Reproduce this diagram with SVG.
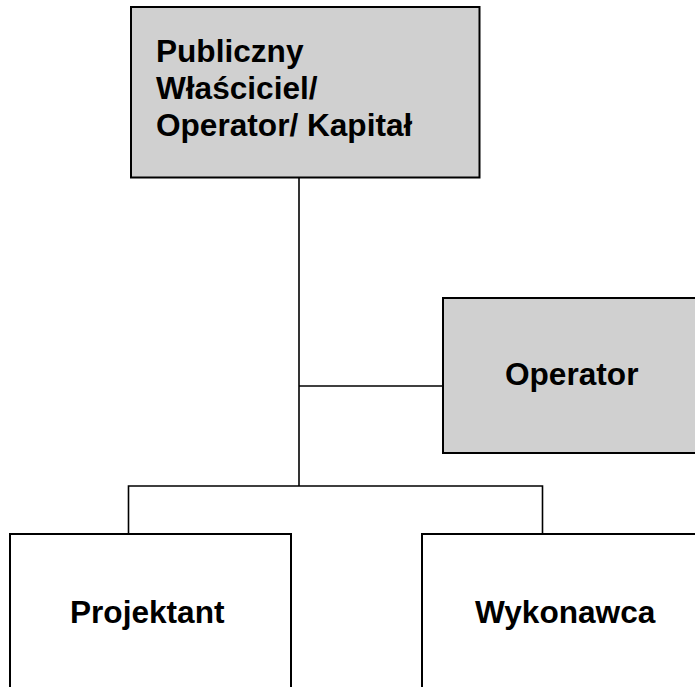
<svg xmlns="http://www.w3.org/2000/svg" width="695" height="687" viewBox="0 0 695 687">
<style>
.box{stroke:#000;stroke-width:2}
.grey{fill:#d0d0d0}
.white{fill:#fff}
.lbl{font-family:"Liberation Sans",Arial,sans-serif;font-weight:bold;font-size:31.6px;fill:#000}
.conn{stroke:#000;stroke-width:1.6;fill:none}
</style>
<rect width="695" height="687" fill="#fff"/>
<g id="connectors">
<line class="conn" x1="299" y1="178" x2="299" y2="486"/>
<line class="conn" x1="299" y1="386" x2="443" y2="386"/>
<polyline class="conn" points="128.5,534 128.5,486 542.5,486 542.5,534"/>
</g>
<g id="node-publiczny">
<rect class="box grey" x="131" y="7" width="348.5" height="170.5"/>
<text class="lbl" x="156" y="62">Publiczny</text>
<text class="lbl" x="156" y="99">Właściciel/</text>
<text class="lbl" x="156" y="136">Operator/ Kapitał</text>
</g>
<g id="node-operator">
<rect class="box grey" x="443" y="298" width="270" height="155"/>
<text class="lbl" x="505" y="385">Operator</text>
</g>
<g id="node-projektant">
<rect class="box white" x="10" y="534" width="281" height="200"/>
<text class="lbl" x="70" y="623">Projektant</text>
</g>
<g id="node-wykonawca">
<rect class="box white" x="422" y="534" width="281" height="200"/>
<text class="lbl" x="475" y="623">Wykonawca</text>
</g>
</svg>
